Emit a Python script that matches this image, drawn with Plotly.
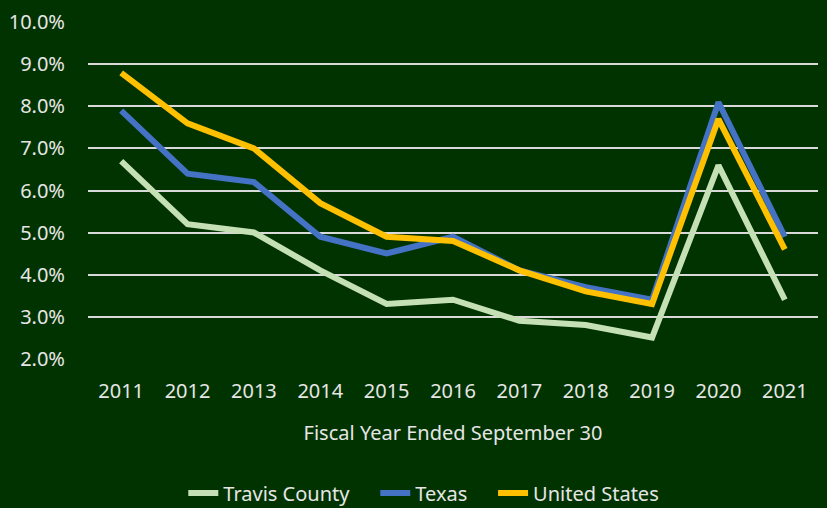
import plotly.graph_objects as go

years = ["2011", "2012", "2013", "2014", "2015", "2016", "2017", "2018", "2019", "2020", "2021"]
travis_county = [6.7, 5.2, 5.0, 4.1, 3.3, 3.4, 2.9, 2.8, 2.5, 6.6, 3.4]
texas = [7.9, 6.4, 6.2, 4.9, 4.5, 4.9, 4.1, 3.7, 3.4, 8.1, 4.9]
united_states = [8.8, 7.6, 7.0, 5.7, 4.9, 4.8, 4.1, 3.6, 3.3, 7.7, 4.6]
y_ticks = [2, 3, 4, 5, 6, 7, 8, 9, 10]

bg = "#013300"
text_color = "#e6e6e6"
font_family = "Noto Sans"
gap = "\u00a0" * 4  # extra room between legend entries

series = [
    ("Travis County", travis_county, "#c5e0b4", gap),
    ("Texas", texas, "#4472c4", gap),
    ("United States", united_states, "#ffc000", ""),
]

fig = go.Figure()
for name, values, color, pad in series:
    fig.add_trace(
        go.Scatter(
            x=years,
            y=values,
            name=name + pad,
            mode="lines",
            line=dict(color=color, width=6),
            hovertemplate="%{x}: %{y:.1f}%<extra>" + name + "</extra>",
        )
    )

fig.update_layout(
    width=827,
    height=508,
    paper_bgcolor=bg,
    plot_bgcolor=bg,
    margin=dict(l=88, r=9, t=22, b=149, autoexpand=False),
    font=dict(family=font_family, color=text_color, size=20),
    showlegend=True,
    legend=dict(
        orientation="h",
        x=0.46,
        xanchor="center",
        y=-0.34,
        yanchor="top",
        font=dict(size=20, color=text_color),
        tracegroupgap=0,
    ),
    xaxis=dict(
        type="category",
        range=[-0.5, 10.5],
        showgrid=False,
        zeroline=False,
        showline=False,
        ticks="",
        ticklabelstandoff=18,
        tickfont=dict(size=20),
        title=dict(text="Fiscal Year Ended September 30", font=dict(size=20), standoff=22),
    ),
    yaxis=dict(
        range=[1.99, 10.01],
        tickvals=y_ticks,
        ticktext=[f"{v:.1f}%" for v in y_ticks],
        showgrid=True,
        gridcolor="#d9d9d9",
        gridwidth=2,
        zeroline=False,
        showline=False,
        ticks="",
        ticklabelstandoff=22,
        tickfont=dict(size=20),
    ),
)

fig.write_html(
    "out.html",
    config={"displayModeBar": False},
    post_script="document.body.style.margin='0';",
)
